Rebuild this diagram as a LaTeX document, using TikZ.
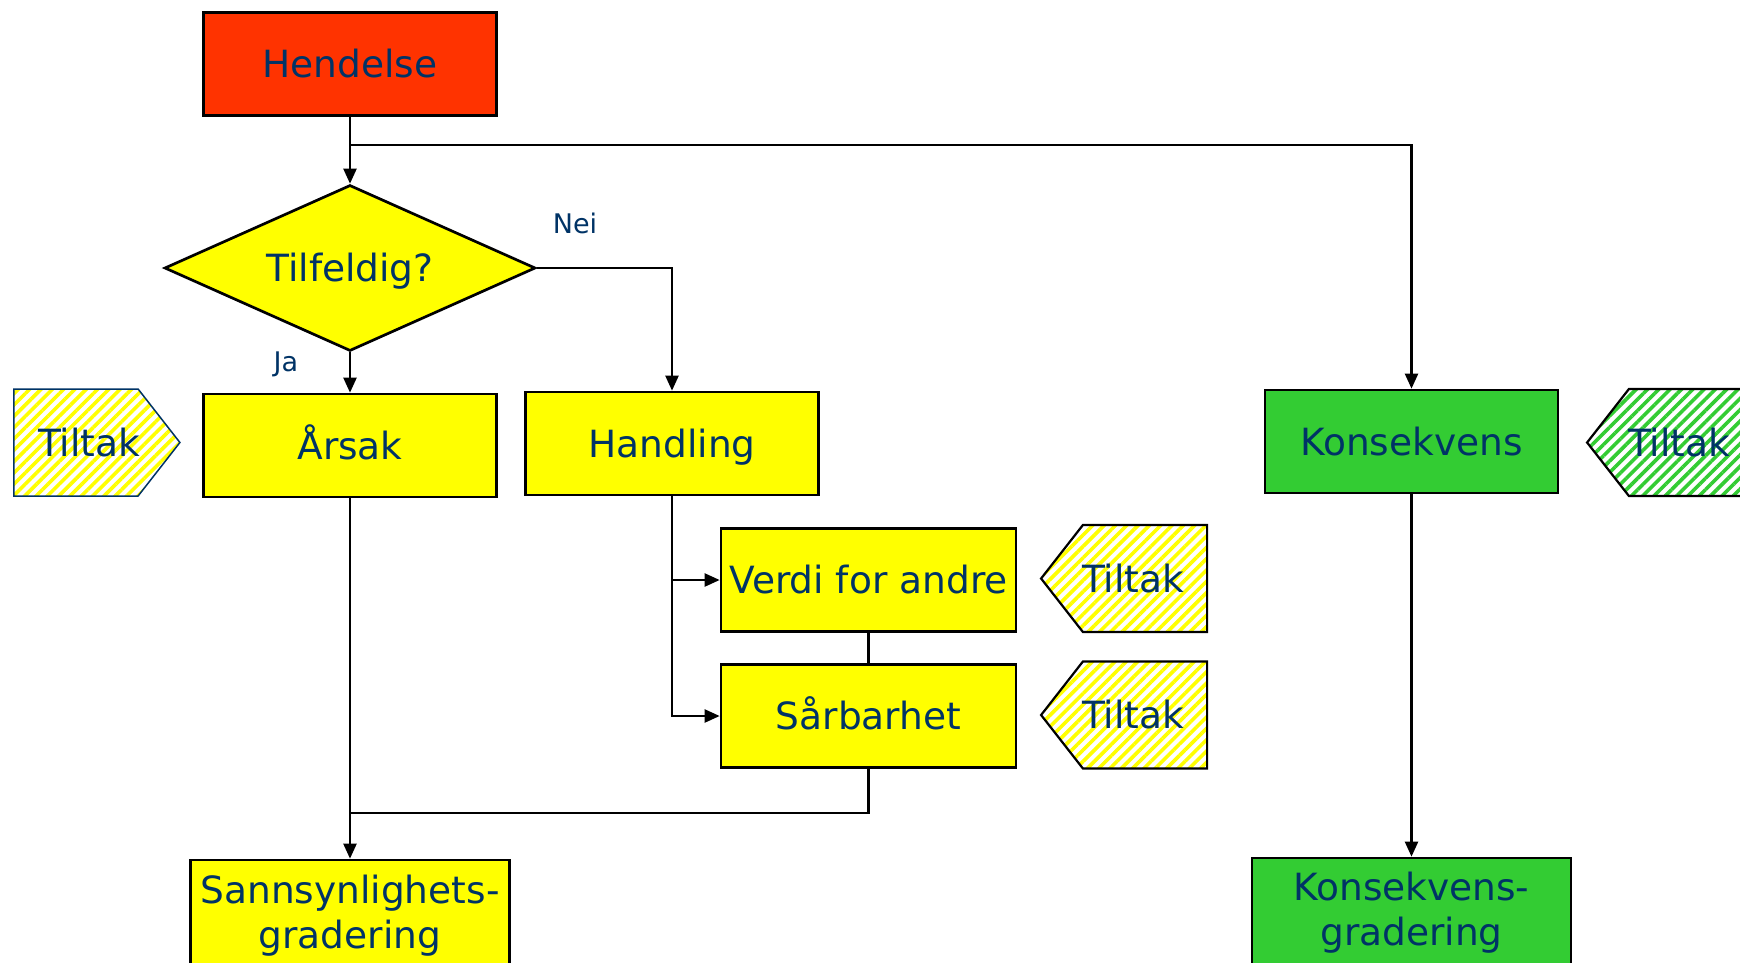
\documentclass[tikz,border=0pt]{standalone}
\usepackage{fontspec}
\setmainfont{DejaVu Sans}
\usetikzlibrary{shapes.geometric,shapes.symbols,patterns.meta,arrows.meta}
\definecolor{tekst}{RGB}{0,51,102}
\definecolor{rod}{RGB}{255,51,0}
\definecolor{gul}{RGB}{255,255,0}
\definecolor{gronn}{RGB}{51,204,51}
\begin{document}
\begin{tikzpicture}[x=1pt,y=-1pt]

	\tikzstyle{boks} = [rectangle,draw=black,line width=2.7pt,fill=gul,text=tekst,font=\fontsize{37.5}{45}\selectfont,minimum width=293pt,minimum height=103pt,inner sep=0pt,align=center]
	\tikzstyle{enkel} = [boks,text height=27pt,text depth=0pt]
	\tikzstyle{valg} = [diamond,draw=black,line width=2.7pt,fill=gul,text=tekst,font=\fontsize{37.5}{45}\selectfont,text height=27pt,text depth=0pt,shape aspect=2.23,minimum width=371pt,minimum height=166pt,inner sep=0pt]
	\tikzstyle{tiltak} = [signal,signal pointer angle=104,draw=black,line width=2.2pt,text=tekst,font=\fontsize{37.5}{45}\selectfont,text height=27pt,text depth=0pt,minimum width=166pt,minimum height=107pt,inner sep=0pt,pattern={Lines[angle=45,distance=8pt,line width=3.6pt]},pattern color=gul]
	\tikzstyle{merke} = [text=tekst,font=\fontsize{27}{32}\selectfont,inner sep=0pt]
	\tikzstyle{pil} = [-{Triangle[width=13pt,length=15pt]},line width=2.3pt]
	\tikzstyle{linje} = [line width=2.3pt]

	\path[use as bounding box,fill=white] (0,0) rectangle (1740,962);
	\clip (0,0) rectangle (1740,962);

	\node[enkel,fill=rod] (hend) at (350,64) {Hendelse};
	\node[valg] (tilf) at (350,268) {Tilfeldig?};
	\node[enkel] (arsak) at (350,445.5) {Årsak};
	\node[enkel] (hand) at (672,443.5) {Handling};
	\node[enkel,fill=gronn] (kons) at (1411.5,441.5) {Konsekvens};
	\node[enkel,minimum width=295pt] (verdi) at (868.5,580) {Verdi for andre};
	\node[enkel,minimum width=295pt] (sarb) at (868.5,716) {Sårbarhet};
	\node[boks,minimum width=319pt,minimum height=112pt] (sann) at (350,916) {Sannsynlighets-\\gradering};
	\node[boks,fill=gronn,minimum width=319pt,minimum height=110pt] (konsgrad) at (1411.5,913) {Konsekvens-\\gradering};

	\node[tiltak,signal to=east,draw=tekst,line width=1.5pt] (tiltakA) at (76,442.5) {\hspace*{26pt}\makebox[0pt]{Tiltak}};
	\node[tiltak,signal to=west] (tiltakV) at (1145,578.5) {\makebox[0pt]{Tiltak}\hspace*{24pt}};
	\node[tiltak,signal to=west] (tiltakS) at (1145,715) {\makebox[0pt]{Tiltak}\hspace*{24pt}};
	\node[tiltak,signal to=west,pattern color=gronn] (tiltakK) at (1691,442.5) {\makebox[0pt]{Tiltak}\hspace*{24pt}};

	\node[merke] (nei) at (575,223) {Nei};
	\node[merke] (ja) at (286,364) {Ja};

	\coordinate (delt) at (350,145);
	\coordinate (samle) at (350,813);

	\draw[pil] (hend) -- (tilf);
	\draw[pil] (delt) -| (kons);
	\draw[pil] (tilf) -- (arsak);
	\draw[pil] (tilf.east) -| (hand.north);
	\draw[pil] (hand.south) |- (verdi.west);
	\draw[pil] (hand.south) |- (sarb.west);
	\draw[linje] (verdi) -- (sarb);
	\draw[linje] (sarb.south) |- (samle);
	\draw[pil] (arsak) -- (sann);
	\draw[pil] (kons) -- (konsgrad);

\end{tikzpicture}
\end{document}
